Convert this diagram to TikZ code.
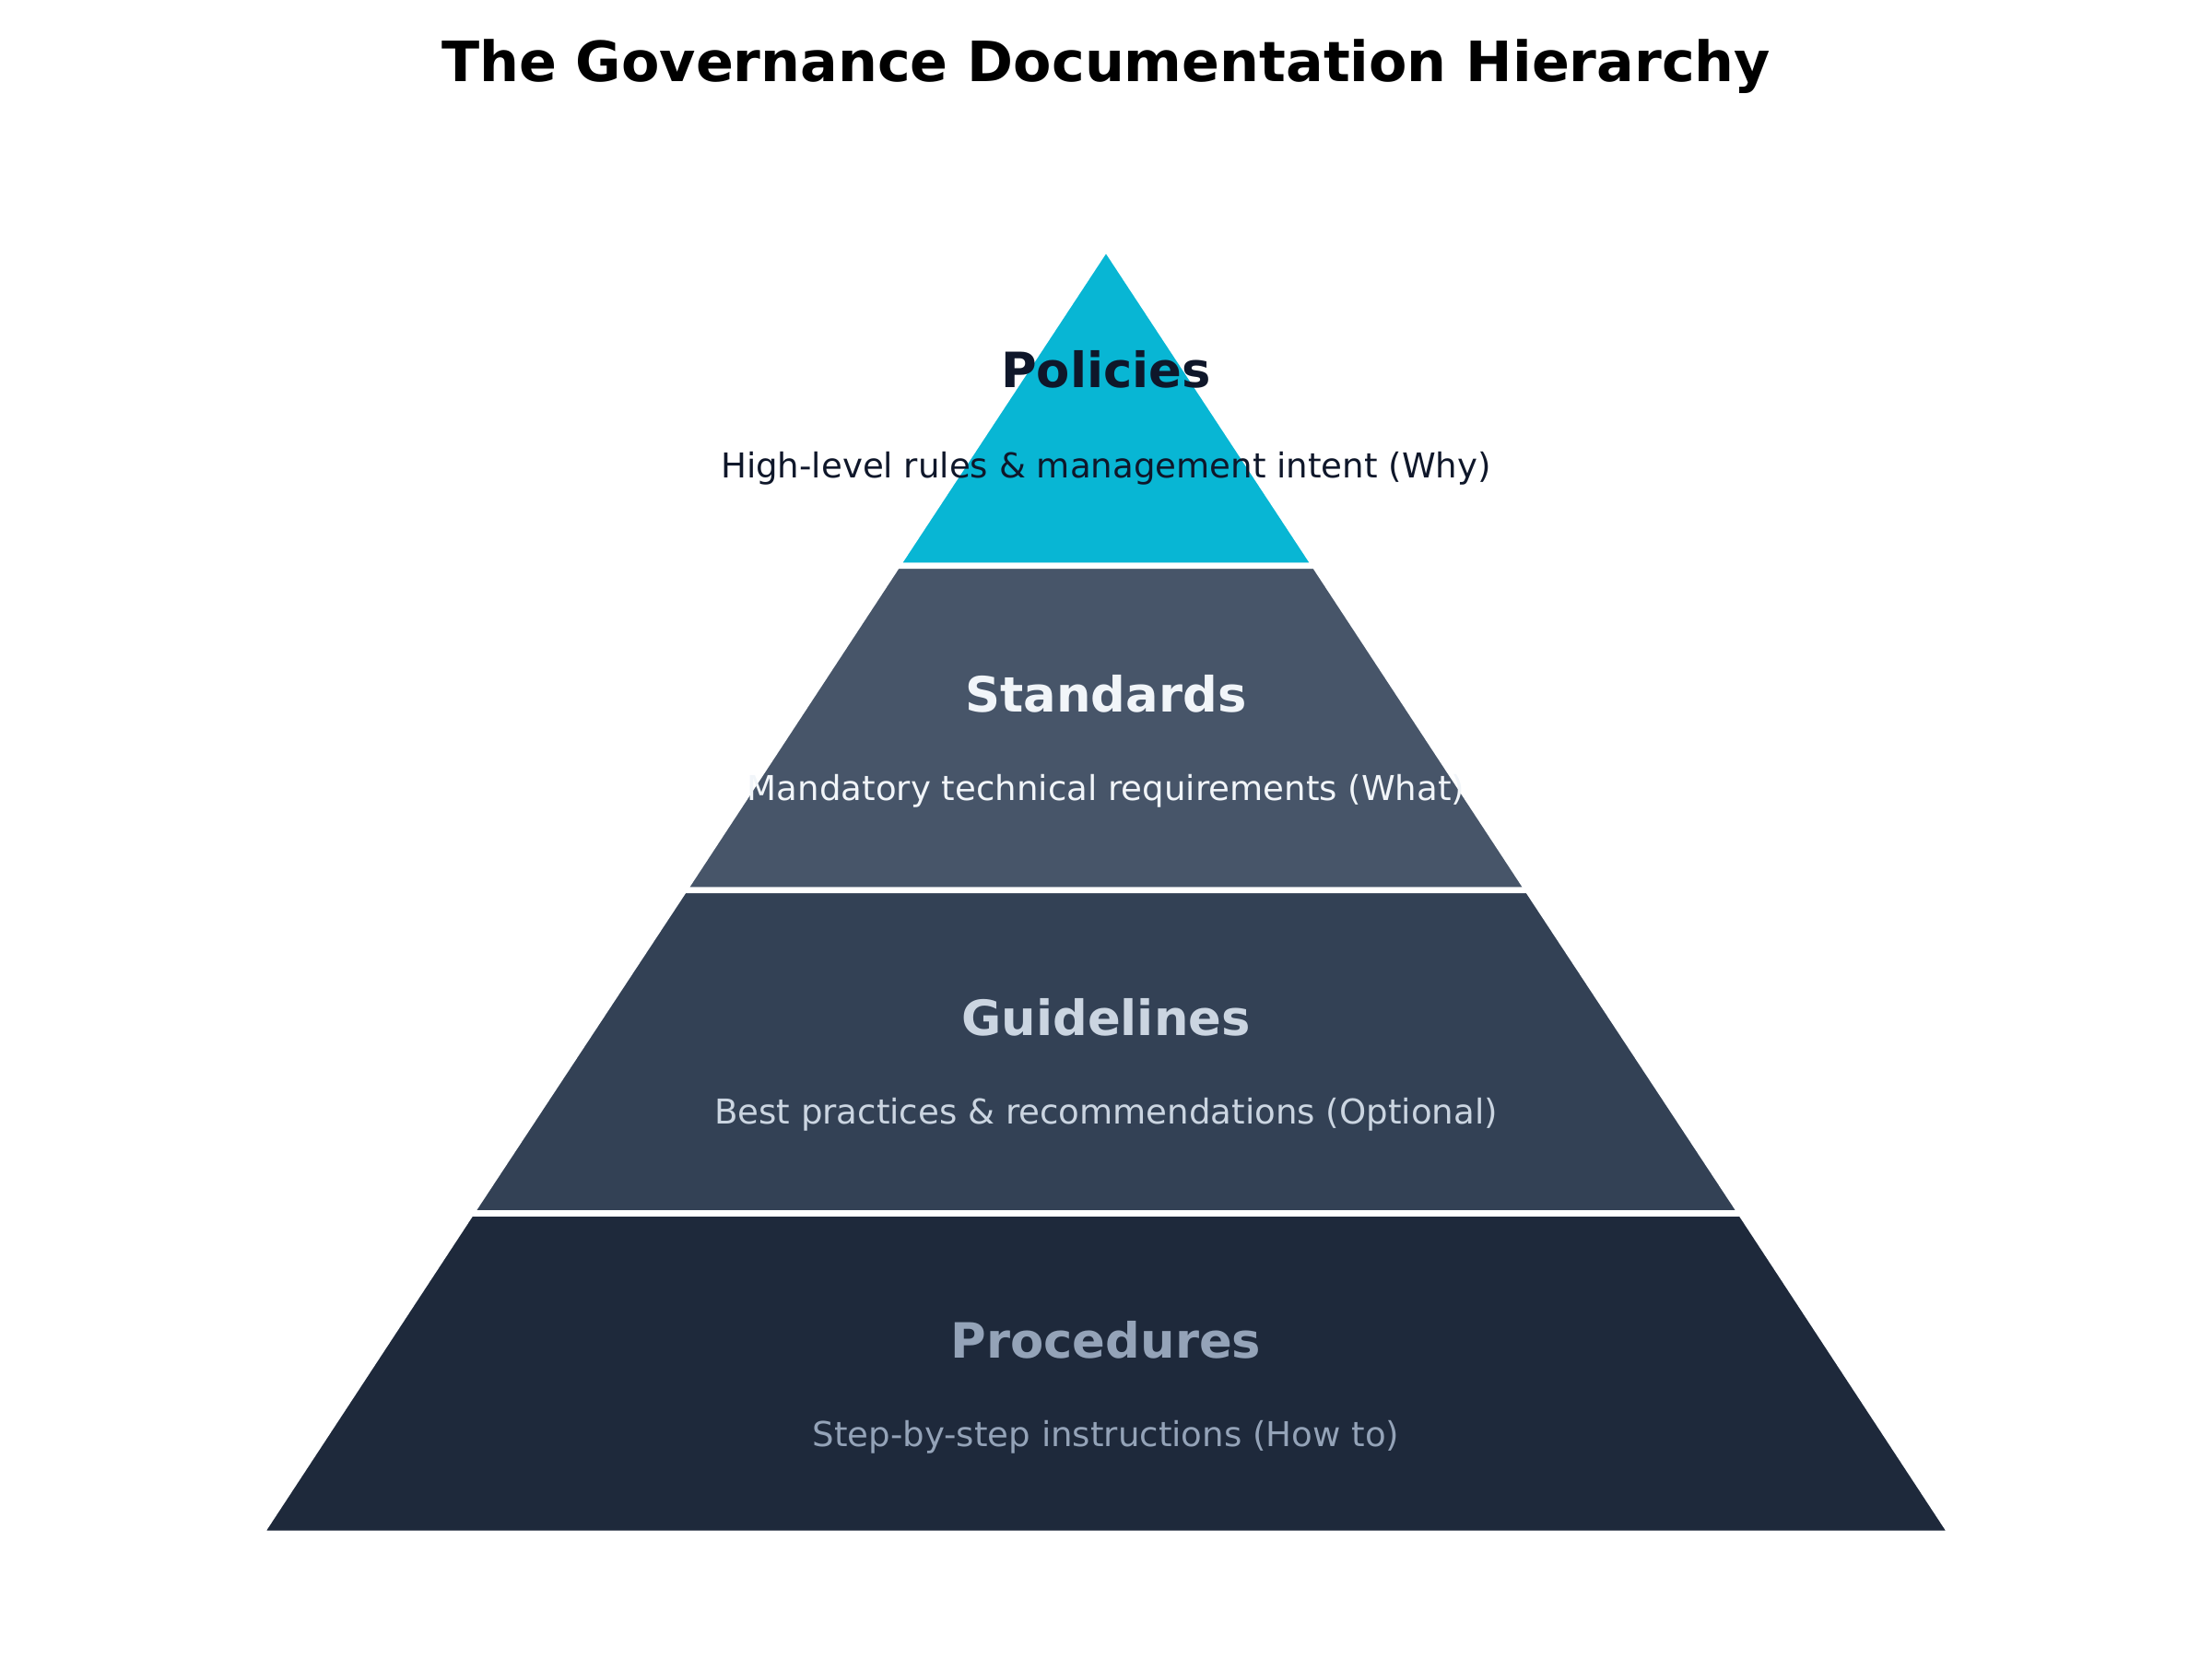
\documentclass[tikz,border=0pt]{standalone}
\usepackage{fontspec}
\setmainfont{DejaVu Sans}
\usetikzlibrary{positioning}
\definecolor{cyanlayer}{HTML}{08B6D4}
\definecolor{slatelight}{HTML}{475569}
\definecolor{slatemid}{HTML}{334155}
\definecolor{slatedark}{HTML}{1E293B}
\definecolor{inkdark}{HTML}{0F172A}
\definecolor{inkwhite}{HTML}{F1F5F9}
\definecolor{inkgrey}{HTML}{CBD5E1}
\definecolor{inkmuted}{HTML}{94A3B8}
\tikzset{
	layer/.style = {draw=white, line width=1.2pt, line join=miter},
	heading/.style = {font=\fontsize{9.8}{12}\selectfont\bfseries},
	caption/.style = {font=\fontsize{6.9}{9}\selectfont}
}
\begin{document}
\begin{tikzpicture}[x=0.01cm, y=-0.01cm]
	\useasboundingbox (0,0) rectangle (1568,1176);
	% title
	\node[font=\fontsize{11.2}{14}\selectfont\bfseries] (title) at (784,47) {The Governance Documentation Hierarchy};
	% layers, top to bottom
	\fill[layer, fill=cyanlayer] (784,176) -- (932,401) -- (636,401) -- cycle;
	\fill[layer, fill=slatelight] (636,401) -- (932,401) -- (1083,631) -- (485,631) -- cycle;
	\fill[layer, fill=slatemid] (485,631) -- (1083,631) -- (1234,860) -- (334,860) -- cycle;
	\fill[layer, fill=slatedark] (334,860) -- (1234,860) -- (1383,1087) -- (185,1087) -- cycle;
	\draw[layer] (636,401) -- (932,401) (485,631) -- (1083,631) (334,860) -- (1234,860);
	% labels
	\node[heading, text=inkdark] (policies) at (784,262) {Policies};
	\node[caption, text=inkdark] (policiesnote) at (784,332) {High-level rules \& management intent (Why)};
	\node[heading, text=inkwhite] (standards) at (784,492) {Standards};
	\node[caption, text=inkwhite] (standardsnote) at (784,561) {Mandatory technical requirements (What)};
	\node[heading, text=inkgrey] (guidelines) at (784,721) {Guidelines};
	\node[caption, text=inkgrey] (guidelinesnote) at (784,790) {Best practices \& recommendations (Optional)};
	\node[heading, text=inkmuted] (procedures) at (784,950) {Procedures};
	\node[caption, text=inkmuted] (proceduresnote) at (784,1019) {Step-by-step instructions (How to)};
\end{tikzpicture}
\end{document}
